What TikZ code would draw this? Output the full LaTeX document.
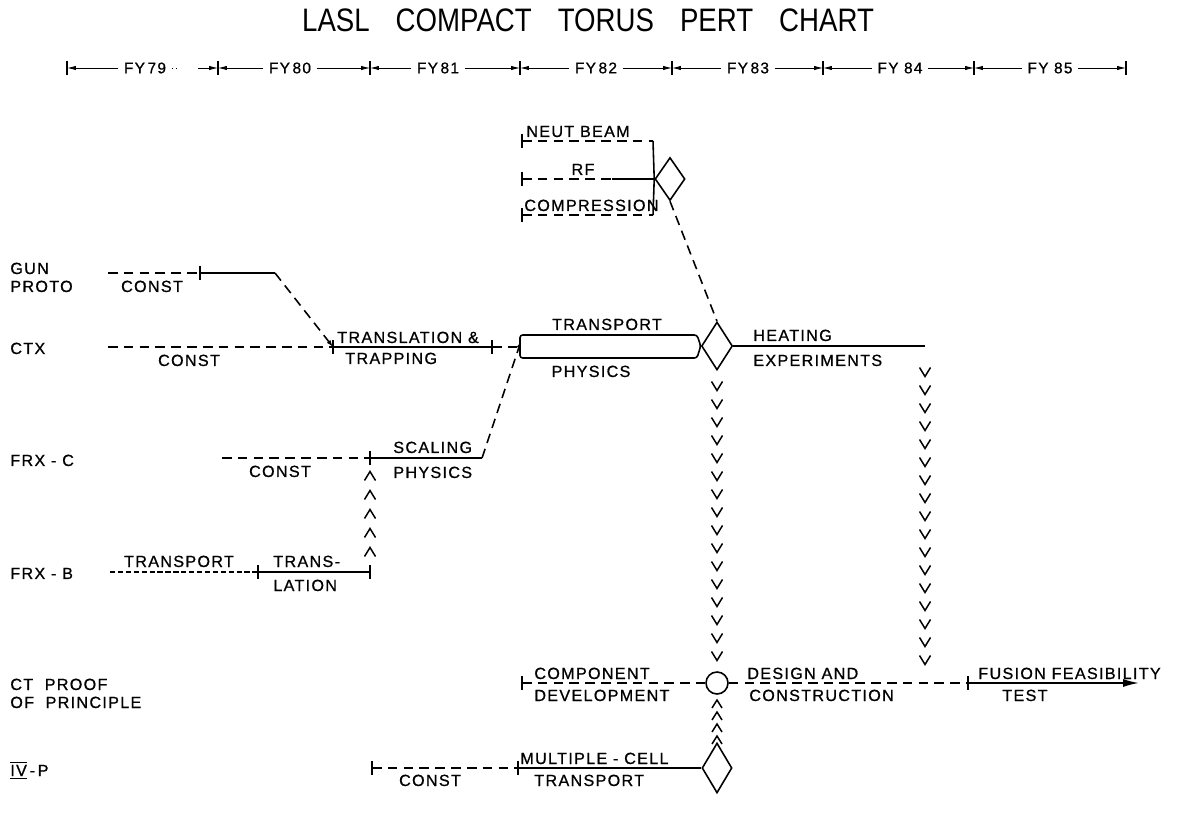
\documentclass[tikz,border=0pt]{standalone}
\usepackage{fontspec}
\setmainfont{Liberation Sans}[LetterSpace=8, FakeBold=0.8]
\newfontfamily\titlefont{Liberation Sans}[FakeStretch=0.85]
\usetikzlibrary{shapes.geometric, arrows.meta, positioning}

\begin{document}
\begin{tikzpicture}[x=0.02cm, y=-0.02cm,
  lbl/.style={font=\fontsize{9.2}{10}\selectfont, inner sep=0pt, anchor=base west},
  mlbl/.style={lbl, anchor=base},
  yrlbl/.style={font=\fontsize{8.8}{10}\selectfont, inner sep=0pt},
  yrarr/.style={line width=0.45pt, -{Latex[length=5pt,width=2.4pt]}},
  plan/.style={line width=0.9pt, dash pattern=on 5.5pt off 3.5pt},
  done/.style={line width=0.9pt},
  tk/.style={line width=0.9pt},
  event/.style={diamond, draw, line width=0.9pt, inner sep=0pt},
  milestone/.style={circle, draw, line width=0.9pt, inner sep=0pt, minimum size=0.44cm},
  chev/.style={line width=0.85pt},
  tip/.style={-{Latex[length=4pt,width=2.6pt]}}]

  \useasboundingbox (0,0) rectangle (1179,813);

  % ── title and fiscal years ─────────────────────────────────────
  \node[font=\titlefont\fontsize{18.5}{20}\selectfont, inner sep=0pt] (title) at (588,20)
       {LASL\hspace{0.8em}COMPACT\hspace{0.8em}TORUS\hspace{0.8em}PERT\hspace{0.8em}CHART};

  \foreach \n/\x in {0/67,1/218,2/370,3/520,4/672,5/823,6/974,7/1126}
    \coordinate (yr\n) at (\x,68);
  \foreach \n in {0,...,7}
    \draw[line width=0.6pt] (yr\n) ++(0,-7) -- ++(0,14);

  \node[yrlbl] (fy79) at (145,68) {FY\,79};
  \node[yrlbl] (fy80) at (290,68) {FY\,80};
  \node[yrlbl] (fy81) at (438,68) {FY\,81};
  \node[yrlbl] (fy82) at (596,68) {FY\,82};
  \node[yrlbl] (fy83) at (748,68) {FY\,83};
  \node[yrlbl] (fy84) at (900,68) {FY 84};
  \node[yrlbl] (fy85) at (1050,68) {FY 85};

  \draw[yrarr] ([xshift=-3pt]fy79.west) -- (yr0);
  \draw[line width=0.45pt, dotted] ([xshift=3pt]fy79.east) -- ++(8,0);
  \draw[yrarr] ([xshift=-0.4cm]yr1) -- (yr1);
  \foreach \f/\a/\b in {fy80/1/2, fy81/2/3, fy82/3/4, fy83/4/5, fy84/5/6, fy85/6/7} {
    \draw[yrarr] ([xshift=-3pt]\f.west) -- (yr\a);
    \draw[yrarr] ([xshift=3pt]\f.east) -- (yr\b);
  }

  % ── row names ──────────────────────────────────────────────────
  \node[lbl] (gun)   at (10,274) {GUN};
  \node[lbl] (proto) at (10,292) {PROTO};
  \node[lbl] (ctx)   at (10,354) {CTX};
  \node[lbl] (frxc)  at (10,466) {FRX - C};
  \node[lbl] (frxb)  at (10,579) {FRX - B};
  \node[lbl] (ctpp)  at (10,690) {CT\ \ PROOF};
  \node[lbl] (ofpp)  at (10,708) {OF\ \ PRINCIPLE};
  \node[lbl] (ivp)   at (10,776) {$\overline{\underline{\mbox{IV}}}$\,-\,P};

  % ── gun proto ──────────────────────────────────────────────────
  \coordinate (gp0) at (108,273);
  \coordinate (gp1) at (200,273);
  \coordinate (gp2) at (275,273);
  \draw[plan] (gp0) -- (gp1);
  \draw[done] (gp1) -- (gp2);
  \node[mlbl] (gpconst) at (152,292) {CONST};

  % ── CTX ────────────────────────────────────────────────────────
  \coordinate (cx0) at (108,347);
  \coordinate (cx1) at (333,347);
  \coordinate (cx2) at (492,347);
  \coordinate (tpin) at (520,347);
  \draw[plan] (cx0) -- (cx1);
  \draw[done] (cx1) -- (cx2);
  \draw[plan] (cx2) -- (tpin);
  \draw[plan, tip] (gp2) -- (cx1);
  \node[mlbl] (cxconst) at (189,366) {CONST};
  \node[lbl] (transl) at (337,343) {TRANSLATION \&};
  \node[lbl] (trap)   at (345,364) {TRAPPING};

  % ── transport physics and heating ──────────────────────────────
  \node[event, minimum width=0.62cm, minimum height=0.96cm] (heat) at (717,346) {};
  \draw[done, rounded corners=1.5pt] (heat.west) -- (697,335) -- (520,335)
        -- (520,358) -- (697,358) -- cycle;
  \node[mlbl] (tport) at (607,330) {TRANSPORT};
  \node[mlbl] (phys)  at (591,377) {PHYSICS};

  \coordinate (hx) at (925,346);
  \draw[done] (heat.east) -- (hx);
  \node[lbl] (heating) at (753,341) {HEATING};
  \node[lbl] (exper)   at (753,366) {EXPERIMENTS};

  % ── heating options ────────────────────────────────────────────
  \node[event, minimum width=0.6cm, minimum height=0.86cm] (opt) at (670,179) {};
  \coordinate (nb0) at (522,141);
  \coordinate (nb1) at (653,141);
  \coordinate (rf0) at (522,179);
  \coordinate (rf1) at (612,179);
  \coordinate (cp0) at (522,215);
  \coordinate (cp1) at (653,215);
  \draw[plan] (nb0) -- (nb1);
  \draw[done] (nb1) -- (opt.west);
  \draw[plan] (rf0) -- (rf1);
  \draw[done] (rf1) -- (opt.west);
  \draw[plan] (cp0) -- (cp1);
  \draw[done] (cp1) -- (opt.west);
  \draw[plan] (opt.south) -- (heat.north);
  \node[lbl]  (nbeam) at (526,137) {NEUT BEAM};
  \node[mlbl] (rf)    at (583,175) {RF};
  \node[lbl]  (comp)  at (524,211) {COMPRESSION};

  % ── FRX-C ──────────────────────────────────────────────────────
  \coordinate (fc0) at (222,458);
  \coordinate (fc1) at (370,458);
  \coordinate (fc2) at (482,458);
  \coordinate (tpfoot) at (521,341);
  \draw[plan] (fc0) -- (fc1);
  \draw[done] (fc1) -- (fc2);
  \draw[plan, tip] (fc2) -- (tpfoot);
  \node[mlbl] (fcconst) at (280,477) {CONST};
  \node[lbl]  (scal)    at (393,453) {SCALING};
  \node[lbl]  (fcphys)  at (393,478) {PHYSICS};

  % ── FRX-B ──────────────────────────────────────────────────────
  \coordinate (fb0) at (110,572);
  \coordinate (fb1) at (258,572);
  \coordinate (fb2) at (370,572);
  \draw[done, dash pattern=on 3pt off 1.5pt] (fb0) -- (fb1);
  \draw[done] (fb1) -- (fb2);
  \node[mlbl] (fbtport) at (179,567) {TRANSPORT};
  \node[lbl]  (trans)   at (273,567) {TRANS-};
  \node[lbl]  (lation)  at (273,591) {LATION};

  % ── CT proof of principle ──────────────────────────────────────
  \node[milestone] (proof) at (717,683) {};
  \coordinate (ct0) at (522,683);
  \coordinate (ct1) at (968,683);
  \coordinate (ct2) at (1139,683);
  \draw[plan] (ct0) -- (proof.west);
  \draw[plan] (proof.east) -- (ct1);
  \draw[done, -{Latex[length=9pt,width=4.5pt]}] (ct1) -- (ct2);
  \node[lbl] (compo)  at (534,679) {COMPONENT};
  \node[lbl] (devel)  at (534,701) {DEVELOPMENT};
  \node[lbl] (design) at (747,679) {DESIGN AND};
  \node[lbl] (constr) at (749,701) {CONSTRUCTION};
  \node[lbl] (fusion) at (978,679) {FUSION FEASIBILITY};
  \node[lbl] (test)   at (1002,701) {TEST};

  % ── IV-P ───────────────────────────────────────────────────────
  \node[event, minimum width=0.6cm, minimum height=1cm] (mcell) at (717,768) {};
  \coordinate (iv0) at (372,768);
  \coordinate (iv1) at (518,768);
  \draw[plan] (iv0) -- (iv1);
  \draw[done] (iv1) -- (mcell.west);
  \node[mlbl] (ivconst) at (430,786) {CONST};
  \node[lbl]  (multi)   at (520,764) {MULTIPLE - CELL};
  \node[lbl]  (ivtport) at (534,786) {TRANSPORT};

  % ── event ticks ────────────────────────────────────────────────
  \foreach \c in {gp1, cx1, cx2, fc1, fb1, fb2, nb0, rf0, cp0, ct0, ct1, iv0, iv1}
    \draw[tk] (\c) ++(0,-7) -- ++(0,14);

  % ── dependency chevrons ────────────────────────────────────────
  \foreach \y in {386,404,...,656}
    \draw[chev] (717,\y) ++(-5.5,-4.5) -- ++(5.5,9) -- ++(5.5,-9);
  \foreach \y in {372,390,...,660}
    \draw[chev] (925,\y) ++(-5.5,-4.5) -- ++(5.5,9) -- ++(5.5,-9);
  \foreach \y in {476,495,...,552}
    \draw[chev] (370,\y) ++(-5.5,4.5) -- ++(5.5,-9) -- ++(5.5,9);
  \foreach \y in {704,716,...,740}
    \draw[chev] (717,\y) ++(-5,4) -- ++(5,-8) -- ++(5,8);

\end{tikzpicture}
\end{document}
